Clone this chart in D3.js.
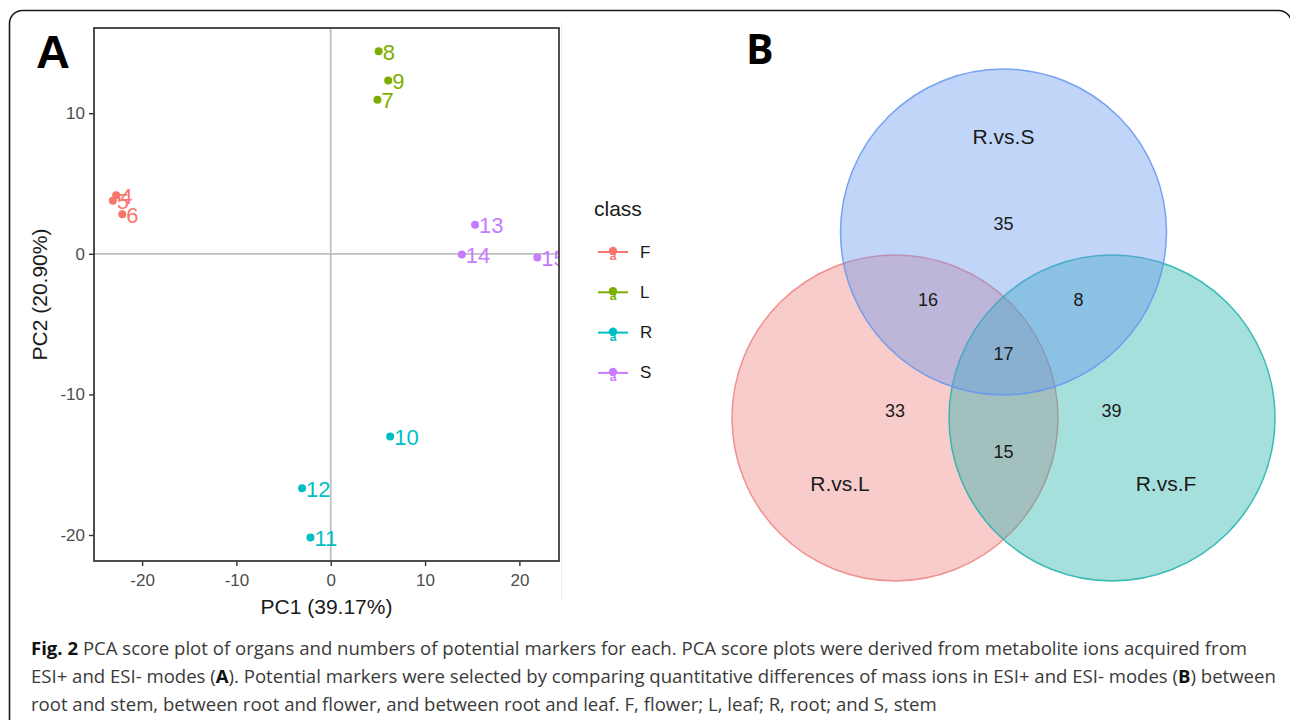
<!DOCTYPE html>
<html>
<head>
<meta charset="utf-8">
<script src="https://cdn.jsdelivr.net/npm/d3@7"></script>
<style>
  body { margin: 0; background: #fff; }
  svg { display: block; }
</style>
</head>
<body>
<svg id="fig" width="1290" height="720"></svg>
<script>
// ---- Panel A: PCA scores ----
const sampleIds   = ["4", "5", "6", "7", "8", "9", "10", "11", "12", "13", "14", "15"];
const sampleClass = ["F", "F", "F", "L", "L", "L", "R", "R", "R", "S", "S", "S"];
const pc1 = [-22.75, -23.1, -22.1, 4.95, 5.08, 6.09, 6.3, -2.15, -3.04, 15.3, 13.9, 21.9];
const pc2 = [4.16, 3.77, 2.81, 10.96, 14.4, 12.33, -13.0, -20.17, -16.68, 2.06, -0.05, -0.26];
const classNames  = ["F", "L", "R", "S"];
const classColors = ["#F8766D", "#7CAE00", "#00BFC4", "#C77CFF"];
const xTicks = [-20, -10, 0, 10, 20];
const yTicks = [-20, -10, 0, 10];
const xTitle = "PC1 (39.17%)";
const yTitle = "PC2 (20.90%)";

// ---- Panel B: marker counts ----
const setNames  = ["R.vs.L", "R.vs.F", "R.vs.S"];
const setColors = ["#F08080", "#20B2AA", "#6495ED"];
const regionKeys   = ["L", "F", "S", "LS", "SF", "LF", "LSF"];
const regionCounts = [33, 39, 35, 16, 8, 15, 17];

const svg = d3.select("#fig");
const axisFont = "'Liberation Sans', Arial, Helvetica, sans-serif";

// outer rounded frame
svg.append("rect")
  .attr("x", 9.5).attr("y", 10.5)
  .attr("width", 1282).attr("height", 760)
  .attr("rx", 13)
  .attr("fill", "none").attr("stroke", "#1a1a1a").attr("stroke-width", 1.6);

// faint divider between the two panels
svg.append("line")
  .attr("x1", 561.5).attr("x2", 561.5).attr("y1", 22).attr("y2", 600)
  .attr("stroke", "#efefef").attr("stroke-width", 1);

// ================= Panel A =================
const panel = { left: 94, right: 559, top: 28, bottom: 561 };
const x = d3.scaleLinear().domain([-25.1, 24.2]).range([panel.left, panel.right]);
const y = d3.scaleLinear().domain([-21.85, 16.06]).range([panel.bottom, panel.top]);
const color = d3.scaleOrdinal().domain(classNames).range(classColors);
const plainInt = d => String(d);   // hyphen-minus, as R prints it

const gA = svg.append("g");

gA.append("clipPath").attr("id", "panelClip")
  .append("rect")
  .attr("x", panel.left).attr("y", panel.top)
  .attr("width", panel.right - panel.left).attr("height", panel.bottom - panel.top);

// zero reference lines
gA.append("line")
  .attr("x1", x(0)).attr("x2", x(0)).attr("y1", panel.top).attr("y2", panel.bottom)
  .attr("stroke", "#bfbfbf").attr("stroke-width", 1.8);
gA.append("line")
  .attr("x1", panel.left).attr("x2", panel.right).attr("y1", y(0)).attr("y2", y(0))
  .attr("stroke", "#bfbfbf").attr("stroke-width", 1.8);

// axes
const xAxis = gA.append("g")
  .attr("transform", `translate(0,${panel.bottom})`)
  .call(d3.axisBottom(x).tickValues(xTicks).tickSize(5).tickPadding(4).tickFormat(plainInt));
const yAxis = gA.append("g")
  .attr("transform", `translate(${panel.left},0)`)
  .call(d3.axisLeft(y).tickValues(yTicks).tickSize(5).tickPadding(4).tickFormat(plainInt));
[xAxis, yAxis].forEach(ax => {
  ax.select(".domain").remove();
  ax.selectAll(".tick line").attr("stroke", "#333").attr("stroke-width", 1.4);
  ax.selectAll(".tick text")
    .attr("fill", "#4d4d4d")
    .style("font-family", axisFont)
    .style("font-size", "17px");
});
xAxis.selectAll(".tick text").attr("dy", "0.95em");

// points and sample labels
const samples = sampleIds.map((id, i) => ({ id, cls: sampleClass[i], x: pc1[i], y: pc2[i] }));
const plotArea = gA.append("g").attr("clip-path", "url(#panelClip)");
plotArea.selectAll("circle.pt").data(samples).join("circle")
  .attr("class", "pt")
  .attr("cx", d => x(d.x)).attr("cy", d => y(d.y)).attr("r", 4)
  .attr("fill", d => color(d.cls));
plotArea.selectAll("text.lbl").data(samples).join("text")
  .attr("class", "lbl")
  .attr("x", d => x(d.x) + 4).attr("y", d => y(d.y) + 1)
  .attr("dominant-baseline", "central")
  .attr("fill", d => color(d.cls))
  .style("font-family", axisFont).style("font-size", "22px")
  .text(d => d.id);

// panel border
gA.append("rect")
  .attr("x", panel.left).attr("y", panel.top)
  .attr("width", panel.right - panel.left).attr("height", panel.bottom - panel.top)
  .attr("fill", "none").attr("stroke", "#3a3a3a").attr("stroke-width", 1.8);

// axis titles
gA.append("text")
  .attr("x", (panel.left + panel.right) / 2).attr("y", 614)
  .attr("text-anchor", "middle").attr("fill", "#1a1a1a")
  .style("font-family", axisFont).style("font-size", "21px")
  .text(xTitle);
gA.append("text")
  .attr("transform", `translate(47,${(panel.top + panel.bottom) / 2}) rotate(-90)`)
  .attr("text-anchor", "middle").attr("fill", "#1a1a1a")
  .style("font-family", axisFont).style("font-size", "21px")
  .text(yTitle);

// legend
const legend = gA.append("g").attr("transform", "translate(594,0)");
legend.append("text")
  .attr("x", 0).attr("y", 216)
  .attr("fill", "#1a1a1a")
  .style("font-family", axisFont).style("font-size", "21px")
  .text("class");
const keys = legend.selectAll("g.key").data(classNames).join("g")
  .attr("class", "key")
  .attr("transform", (d, i) => `translate(0,${252 + i * 40.3})`);
keys.append("line")
  .attr("x1", 4).attr("x2", 34).attr("y1", 0).attr("y2", 0)
  .attr("stroke", d => color(d)).attr("stroke-width", 2);
keys.append("circle")
  .attr("cx", 19).attr("cy", -1).attr("r", 4.2)
  .attr("fill", d => color(d));
keys.append("text")
  .attr("x", 19).attr("y", 8)
  .attr("text-anchor", "middle")
  .attr("fill", d => color(d))
  .style("font-family", axisFont).style("font-size", "12px").style("font-weight", "bold")
  .text("a");
keys.append("text")
  .attr("x", 46).attr("y", 0)
  .attr("dominant-baseline", "central")
  .attr("fill", "#1a1a1a")
  .style("font-family", axisFont).style("font-size", "17px")
  .text(d => d);

// panel letter
svg.append("text")
  .attr("x", 36).attr("y", 68)
  .attr("fill", "#000")
  .style("font-family", axisFont).style("font-size", "47px").style("font-weight", "bold")
  .text("A");

// ================= Panel B =================
const venn = { cx: 1003.5, cy: 355, r: 163, dx: 108.5, dyTop: 123, dyBottom: 63 };
const circles = [
  { name: setNames[0], color: setColors[0], cx: venn.cx - venn.dx, cy: venn.cy + venn.dyBottom, labelDx: -55, labelDy: 65 },
  { name: setNames[1], color: setColors[1], cx: venn.cx + venn.dx, cy: venn.cy + venn.dyBottom, labelDx: 54, labelDy: 65 },
  { name: setNames[2], color: setColors[2], cx: venn.cx, cy: venn.cy - venn.dyTop, labelDx: 0, labelDy: -96 }
];
const gB = svg.append("g");
gB.selectAll("circle.set").data(circles).join("circle")
  .attr("class", "set")
  .attr("cx", d => d.cx).attr("cy", d => d.cy).attr("r", venn.r)
  .attr("fill", d => d.color).attr("fill-opacity", 0.4)
  .attr("stroke", d => d.color).attr("stroke-opacity", 0.85).attr("stroke-width", 1.5);

gB.selectAll("text.setname").data(circles).join("text")
  .attr("class", "setname")
  .attr("x", d => d.cx + d.labelDx).attr("y", d => d.cy + d.labelDy)
  .attr("text-anchor", "middle").attr("dominant-baseline", "central")
  .attr("fill", "#1a1a1a")
  .style("font-family", axisFont).style("font-size", "21px")
  .text(d => d.name);

// count label placement for each region, relative to the diagram centre
const regionOffset = {
  L:   [-108.5, 56],
  F:   [108, 56],
  S:   [0, -131],
  LS:  [-75.5, -55],
  SF:  [75, -55],
  LF:  [0, 97],
  LSF: [0, -1]
};
gB.selectAll("text.count").data(regionKeys).join("text")
  .attr("class", "count")
  .attr("x", d => venn.cx + regionOffset[d][0])
  .attr("y", d => venn.cy + regionOffset[d][1])
  .attr("text-anchor", "middle").attr("dominant-baseline", "central")
  .attr("fill", "#1a1a1a")
  .style("font-family", axisFont).style("font-size", "18px")
  .text((d, i) => regionCounts[i]);

svg.append("text")
  .attr("x", 746).attr("y", 64)
  .attr("fill", "#000")
  .style("font-family", "'Open Sans', sans-serif").style("font-size", "41px").style("font-weight", "bold")
  .text("B");

// ================= Caption =================
const captionLines = [
  { y: 655, parts: [["Fig. 2", true], [" PCA score plot of organs and numbers of potential markers for each. PCA score plots were derived from metabolite ions acquired from", false]] },
  { y: 683, parts: [["ESI+ and ESI- modes (", false], ["A", true], ["). Potential markers were selected by comparing quantitative differences of mass ions in ESI+ and ESI- modes (", false], ["B", true], [") between", false]] },
  { y: 711, parts: [["root and stem, between root and flower, and between root and leaf. F, flower; L, leaf; R, root; and S, stem", false]] }
];
const cap = svg.append("g")
  .style("font-family", "'Open Sans', sans-serif").style("font-size", "18.5px");
const capTexts = captionLines.map(line => {
  const t = cap.append("text")
    .attr("x", 31).attr("y", line.y)
    .attr("fill", "#3a3a3a");
  line.parts.forEach(([s, bold]) => {
    t.append("tspan")
      .attr("font-weight", bold ? "bold" : "normal")
      .attr("fill", bold ? "#111" : "#3a3a3a")
      .text(s);
  });
  return t;
});
// the caption face is set narrow: compress every line by the same factor,
// chosen so the first line runs to the right margin
const firstWidth = capTexts[0].node().getComputedTextLength();
const squeeze = 1216 / firstWidth;
capTexts.forEach(t => {
  const w = t.node().getComputedTextLength();
  t.attr("textLength", w * squeeze).attr("lengthAdjust", "spacingAndGlyphs");
});
</script>
</body>
</html>
